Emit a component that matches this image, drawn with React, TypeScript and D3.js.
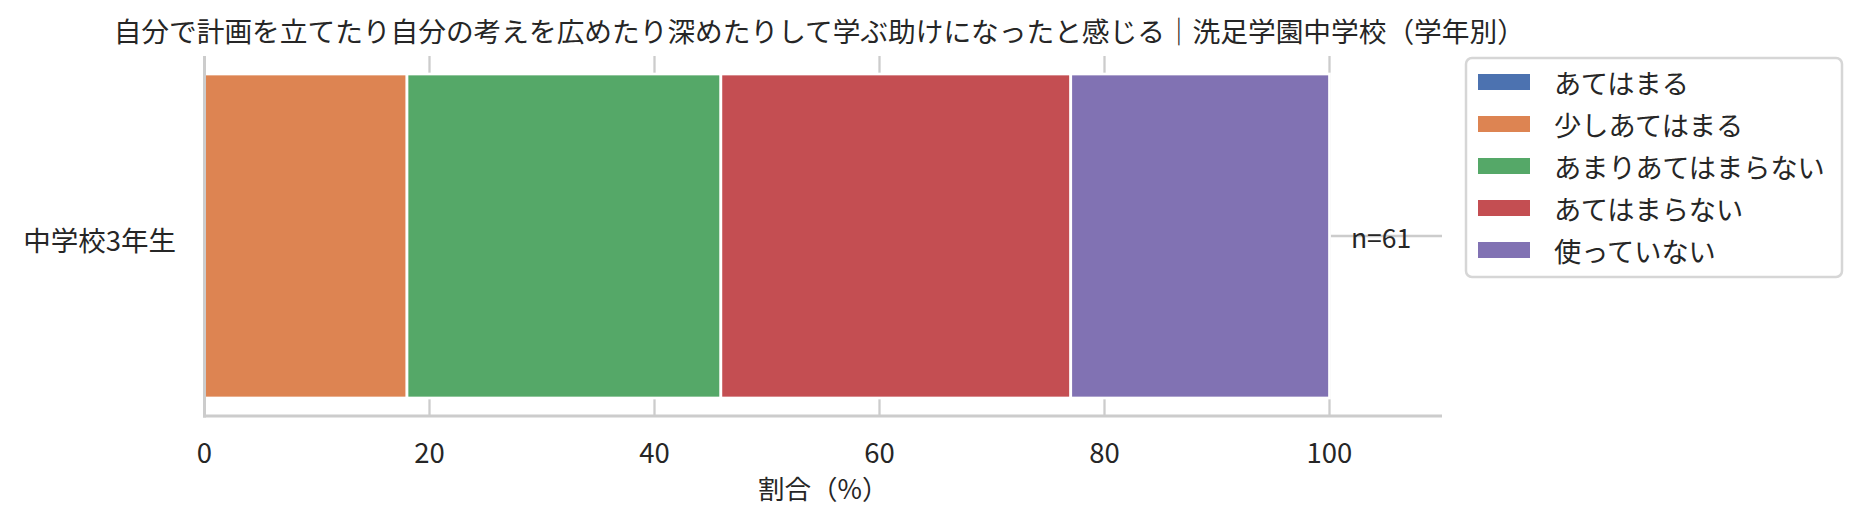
import React from 'react';
import * as d3 from 'd3';

const title = '自分で計画を立てたり自分の考えを広めたり深めたりして学ぶ助けになったと感じる｜洗足学園中学校（学年別）';
const categories = ['中学校3年生'];
const seriesNames = ['あてはまる', '少しあてはまる', 'あまりあてはまらない', 'あてはまらない', '使っていない'];
const seriesColors = ['#4C72B0', '#DD8452', '#55A868', '#C44E52', '#8172B3'];
// percentages per series for each category (same order as categories)
const s1 = [0.0];
const s2 = [18.0];
const s3 = [27.9];
const s4 = [31.1];
const s5 = [23.0];
const nLabels = ['n=61'];
const xTicks = [0, 20, 40, 60, 80, 100];
const xLabel = '割合（%）';

const W = 1862;
const H = 529;
const FONT = '"Noto Sans CJK JP", "Noto Sans", sans-serif';
const TXT = '#262626';
const GRID = '#cccccc';

export default function App() {
  const m = { left: 204.5, right: 1442, top: 56, bottom: 416 };
  const x = d3.scaleLinear().domain([0, 110]).range([m.left, m.right]);
  const y = d3.scaleLinear().domain([-0.5, 0.5]).range([m.top, m.bottom]);
  const barH = 0.9;

  const seriesVals = [s1, s2, s3, s4, s5];
  const table = categories.map((c, i) => {
    const row: Record<string, any> = { cat: c };
    seriesNames.forEach((s, j) => (row[s] = seriesVals[j][i]));
    return row;
  });
  const stacked = d3.stack<any>().keys(seriesNames)(table);

  const legendX = 1466;
  const legendY = 58;
  const legendW = 376;
  const legendH = 219;
  const rowY = (i: number) => 82 + i * 42;

  React.useEffect(() => {
    document.body.style.margin = '0';
  }, []);

  return (
    <svg width={W} height={H} style={{ display: 'block', position: 'absolute', left: 0, top: 0, background: '#fff' }} fontFamily={FONT}>
      <rect width={W} height={H} fill="#fff" />
      {/* gridlines */}
      {xTicks.map((t) => (
        <line key={'gx' + t} x1={x(t)} x2={x(t)} y1={m.top} y2={m.bottom} stroke={GRID} strokeWidth={2.3} />
      ))}
      {categories.map((c, i) => (
        <line key={'gy' + c} x1={m.left} x2={m.right} y1={y(i)} y2={y(i)} stroke={GRID} strokeWidth={2.5} />
      ))}
      {/* bars */}
      {stacked.map((layer, j) =>
        layer.map((d, i) => (
          <rect
            key={seriesNames[j] + i}
            x={x(d[0])}
            y={y(i - barH / 2)}
            width={x(d[1]) - x(d[0])}
            height={y(i + barH / 2) - y(i - barH / 2)}
            fill={seriesColors[j]}
            stroke="#fff"
            strokeWidth={d[1] - d[0] > 0 ? 2.7 : 0}
          />
        ))
      )}
      {/* spines */}
      <line x1={m.left} x2={m.left} y1={m.top} y2={m.bottom + 1.5} stroke={GRID} strokeWidth={3} />
      <line x1={m.left - 1.5} x2={m.right} y1={m.bottom} y2={m.bottom} stroke={GRID} strokeWidth={3} />
      {/* n labels */}
      {categories.map((c, i) => (
        <text key={'n' + c} x={x(101.9)} y={y(i)} dominantBaseline="central" fontSize={26.5} fill={TXT}>
          {nLabels[i]}
        </text>
      ))}
      {/* x tick labels */}
      {xTicks.map((t) => (
        <text key={'tx' + t} x={x(t)} y={463} textAnchor="middle" fontSize={27.5} fill={TXT}>
          {t}
        </text>
      ))}
      {/* y tick labels */}
      {categories.map((c, i) => (
        <text key={'ty' + c} x={176} y={y(i) + 3} textAnchor="end" dominantBaseline="central" fontSize={27.5} fill={TXT}>
          {c}
        </text>
      ))}
      {/* x label */}
      <text x={(m.left + m.right) / 2} y={499} textAnchor="middle" fontSize={26.5} fill={TXT}>
        {xLabel}
      </text>
      {/* title */}
      <text x={(m.left + m.right) / 2 - 4} y={42} textAnchor="middle" fontSize={27.7} fill={TXT}>
        {title}
      </text>
      {/* legend */}
      <rect x={legendX} y={legendY} width={legendW} height={legendH} rx={6} ry={6} fill="#fff" stroke="#d6d6d6" strokeWidth={2.5} />
      {seriesNames.map((s, i) => (
        <g key={'lg' + s}>
          <rect x={1477} y={rowY(i) - 9} width={54} height={18} fill={seriesColors[i]} stroke="#fff" strokeWidth={2} />
          <text x={1554} y={rowY(i)} dominantBaseline="central" fontSize={27.2} fill={TXT}>
            {s}
          </text>
        </g>
      ))}
    </svg>
  );
}
